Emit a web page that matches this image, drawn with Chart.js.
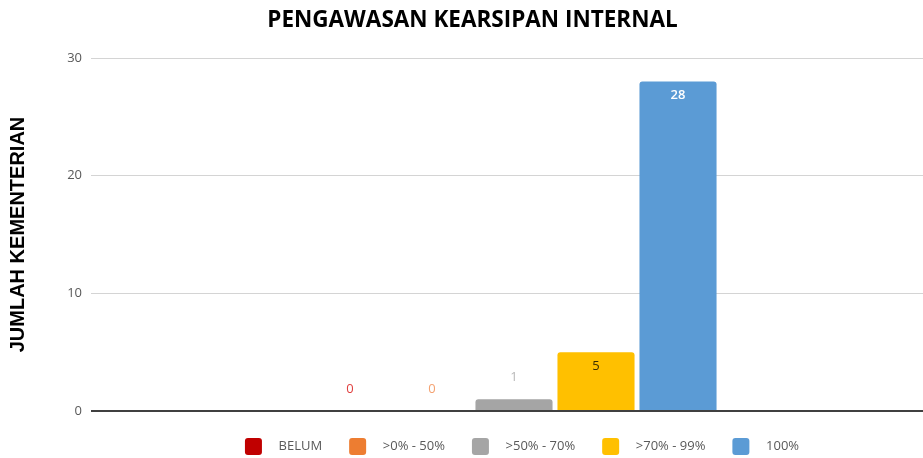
<!DOCTYPE html>
<html>
<head>
<meta charset="utf-8">
<script src="https://cdn.jsdelivr.net/npm/chart.js@4.4.1/dist/chart.umd.min.js"></script>
<style>
  html, body { margin: 0; padding: 0; background: #fff; overflow: hidden; }
  #wrap { width: 929px; height: 458px; }
</style>
</head>
<body>
<div id="wrap"><canvas id="chart"></canvas></div>
<script>
// data
const categories = [""];
const seriesNames = ["BELUM", ">0% - 50%", ">50% - 70%", ">70% - 99%", "100%"];
const seriesValues = [0, 0, 1, 5, 28];
const yTicks = [0, 10, 20, 30];

const barColors = ["#c00000", "#ed7d31", "#a5a5a5", "#ffc000", "#5b9bd5"];
const labelColors = ["#e0403f", "#f4a271", "#b8b8b8", "#3a2e00", "#ffffff"];

// value labels (above small bars, inside top of tall bars)
const valueLabels = {
  id: "valueLabels",
  afterLayout(chart) {
    // legend and title sit a little right of centre in the original
    chart.legend.left += 8;
    chart.legend.right += 8;
    chart.titleBlock.left += 8;
    chart.titleBlock.right += 8;
  },
  afterDatasetsDraw(chart) {
    const ctx = chart.ctx;
    ctx.save();
    ctx.textAlign = "center";
    ctx.textBaseline = "middle";
    chart.data.datasets.forEach((ds, i) => {
      const bar = chart.getDatasetMeta(i).data[0];
      const v = ds.data[0];
      const inside = v >= 3;
      ctx.font = (i === 4 ? "600 " : "") + "13px 'Open Sans'";
      ctx.fillStyle = labelColors[i];
      ctx.fillText(String(v), bar.x, inside ? bar.y + 14 : bar.y - 22);
    });
    ctx.restore();
  }
};

new Chart(document.getElementById("chart"), {
  type: "bar",
  data: {
    labels: categories,
    datasets: seriesNames.map((name, i) => ({
      label: name,
      data: [seriesValues[i]],
      backgroundColor: barColors[i],
      borderWidth: 0,
      borderRadius: 3,
      categoryPercentage: 0.494,
      barPercentage: 0.94,
    })),
  },
  options: {
    responsive: true,
    maintainAspectRatio: false,
    animation: false,
    layout: { padding: { left: 0, right: 0, top: 0, bottom: -7 } },
    plugins: {
      title: {
        display: true,
        text: "PENGAWASAN KEARSIPAN INTERNAL",
        color: "#000",
        font: { family: "'Open Sans'", size: 22.5, weight: "bold" },
        padding: { top: 7, bottom: 24 },
      },
      legend: {
        position: "bottom",
        fullSize: false,
        labels: {
          boxWidth: 17,
          boxHeight: 17,
          useBorderRadius: true,
          borderRadius: 3,
          padding: 27,
          color: "#595959",
          font: { family: "'Open Sans'", size: 13 },
          generateLabels(chart) {
            return Chart.defaults.plugins.legend.labels.generateLabels(chart).map((l) => {
              l.text = "   " + l.text;
              return l;
            });
          },
        },
      },
      tooltip: { enabled: false },
    },
    scales: {
      x: { display: false },
      y: {
        min: 0,
        max: 30,
        afterBuildTicks(scale) {
          scale.ticks = yTicks.map((v) => ({ value: v }));
        },
        afterFit(scale) {
          scale.width = 99;
        },
        border: { display: false },
        grid: {
          color: (c) => (c.tick && c.tick.value === 0 ? "#404040" : "#d4d4d4"),
          lineWidth: (c) => (c.tick && c.tick.value === 0 ? 2 : 1),
          tickLength: 8,
        },
        ticks: {
          padding: 9,
          color: "#595959",
          font: { family: "'Open Sans'", size: 13 },
        },
        title: {
          display: true,
          text: "JUMLAH KEMENTERIAN",
          color: "#000",
          font: { family: "'Liberation Sans'", size: 20, weight: "bold" },
          padding: { top: 6, bottom: 0 },
        },
      },
    },
  },
  plugins: [valueLabels],
});
</script>
</body>
</html>
